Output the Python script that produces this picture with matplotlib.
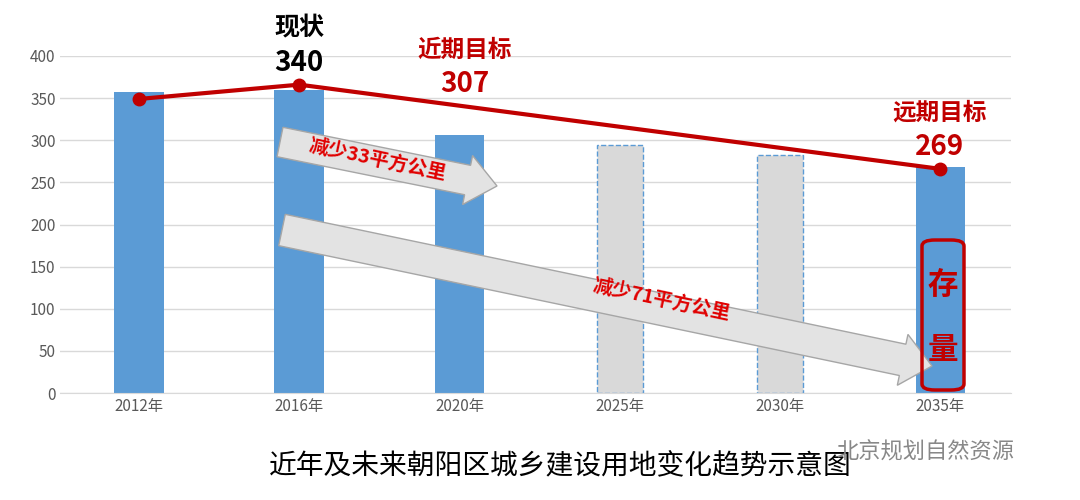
import numpy as np
import matplotlib.pyplot as plt
from matplotlib.patches import Polygon, FancyBboxPatch

plt.rcParams['font.family'] = ['Noto Sans CJK SC', 'DejaVu Sans']

years = ['2012年', '2016年', '2020年', '2025年', '2030年', '2035年']
bars = [357, 360, 306, 294, 282, 268]
planned = [False, False, False, True, True, False]
line_idx = [0, 1, 5]
line_vals = [349, 366, 266]

fig = plt.figure(figsize=(10.8, 5.0), dpi=100)
ax = fig.add_axes([0.056, 0.214, 0.88, 0.674])
x = np.arange(len(years))
for i, (v, p) in enumerate(zip(bars, planned)):
    if p:
        ax.bar(i, v, 0.29, color='#d9d9d9', edgecolor='#5b9bd5', linestyle='--', linewidth=1, zorder=2)
    else:
        ax.bar(i, v, 0.31, color='#5b9bd5', zorder=2)
ax.plot(line_idx, line_vals, color='#c00000', lw=3, marker='o', ms=9, zorder=4)

ax.set_xlim(-0.49, 5.44)
ax.set_ylim(0, 400)
ax.set_yticks(range(0, 401, 50))
ax.set_xticks(x, years)
ax.tick_params(length=0, labelsize=11, colors='#595959')
ax.grid(axis='y', color='#d9d9d9', lw=1, zorder=0)
for s in ['top', 'right', 'left']:
    ax.spines[s].set_visible(False)
ax.spines['bottom'].set_color('#d9d9d9')


def arrow_poly(x0, y0, x1, y1, w, hw, hl):
    # pixel coords (y down) -> figure fraction polygon
    p0, p1 = np.array([x0, y0], float), np.array([x1, y1], float)
    d = (p1 - p0) / np.linalg.norm(p1 - p0)
    n = np.array([-d[1], d[0]])
    b = p1 - d * hl
    pts = [p0 + n * w / 2, b + n * w / 2, b + n * hw / 2, p1,
           b - n * hw / 2, b - n * w / 2, p0 - n * w / 2]
    return [(px / 1080, 1 - py / 500) for px, py in pts]


for (x0, y0, x1, y1, w, hw, txt, tx, ty, rot) in [
        (280, 142, 497, 186, 30, 50, '减少33平方公里', 378, 160, -12),
        (282, 230, 932, 366, 32, 52, '减少71平方公里', 662, 300, -12)]:
    fig.patches.append(Polygon(arrow_poly(x0, y0, x1, y1, w, hw, 30), closed=True,
                               transform=fig.transFigure, facecolor='#e3e3e3',
                               edgecolor='#a6a6a6', lw=1, zorder=5))
    fig.text(tx / 1080, 1 - ty / 500, txt, color='#e00000', fontsize=14, fontweight='bold',
             rotation=rot, ha='center', va='center', zorder=6)

fig.patches.append(FancyBboxPatch((922 / 1080, 1 - 390 / 500), 42 / 1080, 150 / 500,
                                  boxstyle='round,pad=0,rounding_size=0.012', transform=fig.transFigure,
                                  facecolor='none', edgecolor='#c00000', lw=2.5, zorder=6))
fig.text(943 / 1080, 1 - 285 / 500, '存', fontsize=22, fontweight='bold', color='#c00000', ha='center', va='center')
fig.text(943 / 1080, 1 - 350 / 500, '量', fontsize=22, fontweight='bold', color='#c00000', ha='center', va='center')

fig.text(299 / 1080, 1 - 28 / 500, '现状', fontsize=18, fontweight='bold', color='black', ha='center', va='center')
fig.text(299 / 1080, 1 - 63 / 500, '340', fontsize=20, fontweight='bold', color='black', ha='center', va='center')
fig.text(465 / 1080, 1 - 50 / 500, '近期目标', fontsize=17, fontweight='bold', color='#c00000', ha='center', va='center')
fig.text(465 / 1080, 1 - 84 / 500, '307', fontsize=20, fontweight='bold', color='#c00000', ha='center', va='center')
fig.text(940 / 1080, 1 - 113 / 500, '远期目标', fontsize=17, fontweight='bold', color='#c00000', ha='center', va='center')
fig.text(940 / 1080, 1 - 147 / 500, '269', fontsize=20, fontweight='bold', color='#c00000', ha='center', va='center')

fig.text(560 / 1080, 1 - 466 / 500, '近年及未来朝阳区城乡建设用地变化趋势示意图', fontsize=20, ha='center', va='center')
fig.text(925 / 1080, 1 - 452 / 500, '北京规划自然资源', fontsize=16, color='#888888', ha='center', va='center')

fig.savefig('out.png', dpi=100)
